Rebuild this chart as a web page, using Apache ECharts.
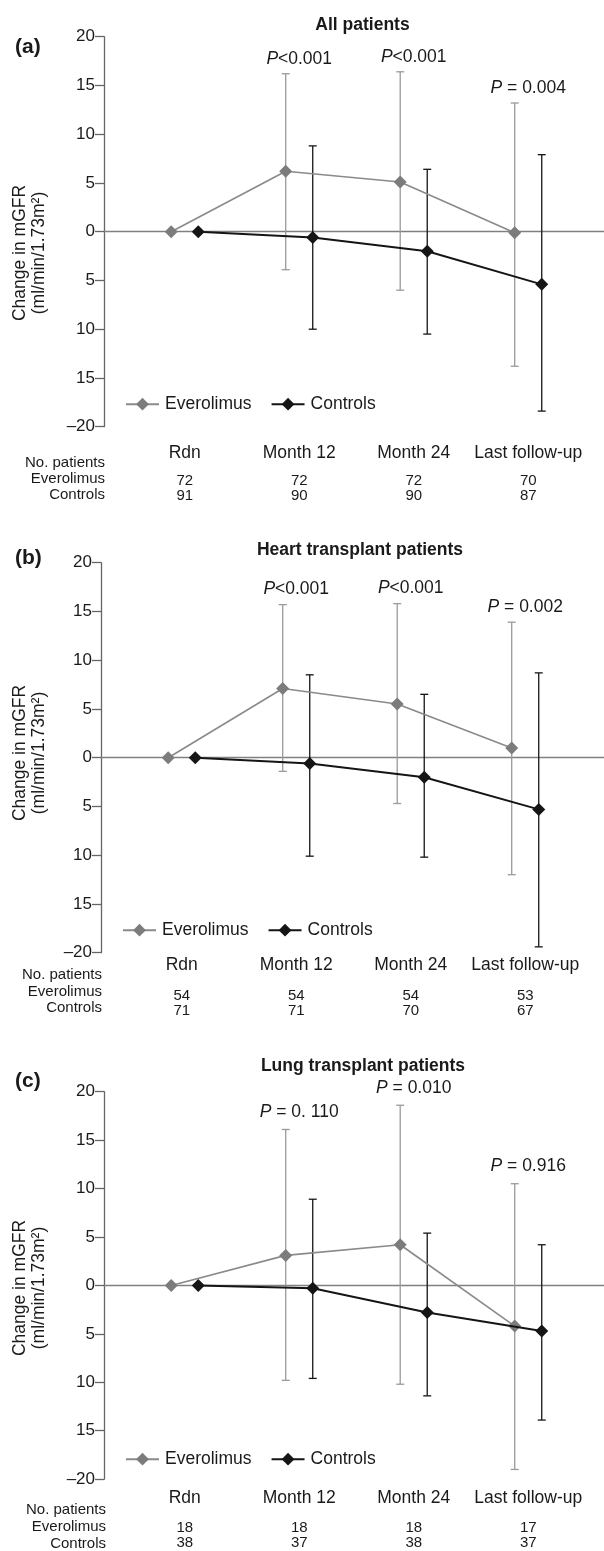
<!DOCTYPE html>
<html><head><meta charset="utf-8">
<script src="https://cdn.jsdelivr.net/npm/echarts@6/dist/echarts.min.js"></script>
<style>html,body{margin:0;padding:0;background:#fff}#c{width:604px;height:1551px}</style>
</head><body><div id="c"></div>
<script>
// ---------- data ----------
const categories = ['Rdn', 'Month 12', 'Month 24', 'Last follow-up'];
const yTickLabels = ['\u201320', '15', '10', '5', '0', '5', '10', '15', '20']; // from -20 to 20 step 5
const panelLetters = ['(a)', '(b)', '(c)'];
const panelTitles = ['All patients', 'Heart transplant patients', 'Lung transplant patients'];
const seriesNames = ['Everolimus', 'Controls'];
const rowLabels = ['No. patients', 'Everolimus', 'Controls'];
const yAxisName = ['Change in mGFR', '(ml/min/1.73m\u00B2)'];

// (a) All patients
const everoMeanA = [0, 6.2, 5.1, -0.1];
const everoLowA  = [0, -3.9, -6.0, -13.8];
const everoHighA = [0, 16.2, 16.4, 13.2];
const ctrlMeanA  = [0, -0.6, -2.0, -5.4];
const ctrlLowA   = [0, -10.0, -10.5, -18.4];
const ctrlHighA  = [0, 8.8, 6.4, 7.9];
const pLabelsA   = ['', 'P<0.001', 'P<0.001', 'P = 0.004'];
const nEveroA    = [72, 72, 72, 70];
const nCtrlA     = [91, 90, 90, 87];

// (b) Heart transplant patients
const everoMeanB = [0, 7.1, 5.5, 1.0];
const everoLowB  = [0, -1.4, -4.7, -12.0];
const everoHighB = [0, 15.7, 15.8, 13.9];
const ctrlMeanB  = [0, -0.6, -2.0, -5.3];
const ctrlLowB   = [0, -10.1, -10.2, -19.4];
const ctrlHighB  = [0, 8.5, 6.5, 8.7];
const pLabelsB   = ['', 'P<0.001', 'P<0.001', 'P = 0.002'];
const nEveroB    = [54, 54, 54, 53];
const nCtrlB     = [71, 71, 70, 67];

// (c) Lung transplant patients
const everoMeanC = [0, 3.1, 4.2, -4.2];
const everoLowC  = [0, -9.8, -10.2, -19.0];
const everoHighC = [0, 16.1, 18.6, 10.5];
const ctrlMeanC  = [0, -0.3, -2.8, -4.7];
const ctrlLowC   = [0, -9.6, -11.4, -13.9];
const ctrlHighC  = [0, 8.9, 5.4, 4.2];
const pLabelsC   = ['', 'P = 0. 110', 'P = 0.010', 'P = 0.916'];
const nEveroC    = [18, 18, 18, 17];
const nCtrlC     = [38, 37, 38, 37];

// ---------- layout / style ----------
const FONT = '"Liberation Sans", Arial, Helvetica, sans-serif';
const TXT = '#1a1a1a';
const EVERO_LINE = '#8a8a8a', EVERO_MARK = '#7c7c7c', EVERO_ERR = '#9a9a9a';
const CTRL = '#151515';
const PX_PER_CAT = 114.5;
const XMIN = -0.705;
const OFF = 0.118;

const panels = [
  { mean: [everoMeanA, ctrlMeanA], low: [everoLowA, ctrlLowA], high: [everoHighA, ctrlHighA], p: pLabelsA, n: [nEveroA, nCtrlA],
    top: 36.7, left: 104, nameCy: 253, titleX: 362.5, titleY: 25, letterY: 47, catDy: 26.3, rowDy: [36, 52.6, 68.3], numDy: [53.8, 69], rowRight: 105, pGap: 15 },
  { mean: [everoMeanB, ctrlMeanB], low: [everoLowB, ctrlLowB], high: [everoHighB, ctrlHighB], p: pLabelsB, n: [nEveroB, nCtrlB],
    top: 562.7, left: 101, nameCy: 753, titleX: 360, titleY: 550, letterY: 558, catDy: 12.3, rowDy: [22.3, 39, 55.6], numDy: [43, 58], rowRight: 102, pGap: 15.5 },
  { mean: [everoMeanC, ctrlMeanC], low: [everoLowC, ctrlLowC], high: [everoHighC, ctrlHighC], p: pLabelsC, n: [nEveroC, nCtrlC],
    top: 1091.7, left: 104, nameCy: 1288, titleX: 363, titleY: 1066, letterY: 1081.7, catDy: 18.8, rowDy: [28.3, 45, 61.8], numDy: [48.3, 64], rowRight: 106, pGap: 17.5 }
];
const PLOT_H = 390;

const grids = [], xAxes = [], yAxes = [], series = [], legends = [], graphics = [];

function errRender(offset, color) {
  return function (params, api) {
    const i = api.value(0), lo = api.value(1), hi = api.value(2);
    if (lo === hi) return null;
    const a = api.coord([i + offset, lo]);
    const b = api.coord([i + offset, hi]);
    const cap = 4;
    const st = { stroke: color, lineWidth: 1.3 };
    return { type: 'group', children: [
      { type: 'line', shape: { x1: a[0], y1: a[1], x2: b[0], y2: b[1] }, style: st },
      { type: 'line', shape: { x1: a[0] - cap, y1: a[1], x2: a[0] + cap, y2: a[1] }, style: st },
      { type: 'line', shape: { x1: b[0] - cap, y1: b[1], x2: b[0] + cap, y2: b[1] }, style: st }
    ]};
  };
}

panels.forEach((P, g) => {
  const width = 604 - P.left;
  const xmax = XMIN + width / PX_PER_CAT;
  grids.push({ left: P.left, top: P.top, width: width, height: PLOT_H, containLabel: false });

  const xBase = { gridIndex: g, type: 'value', min: XMIN, max: xmax, splitLine: { show: false }, axisTick: { show: false } };
  // zero line axis
  const xi0 = xAxes.length;
  xAxes.push(Object.assign({}, xBase, {
    axisLine: { show: true, onZero: true, lineStyle: { color: '#808080', width: 1.3 } },
    axisLabel: { show: false }
  }));
  // category labels axis
  xAxes.push(Object.assign({}, xBase, {
    position: 'bottom',
    axisLine: { show: false, onZero: false },
    axisLabel: { show: true, customValues: [0, 1, 2, 3], margin: P.catDy - 8.75,
      formatter: v => categories[Math.round(v)] || '',
      fontSize: 17.5, lineHeight: 17.5, fontFamily: FONT, color: TXT }
  }));
  // patient count axis
  const lh = P.numDy[1] - P.numDy[0];
  xAxes.push(Object.assign({}, xBase, {
    position: 'bottom',
    axisLine: { show: false, onZero: false },
    axisLabel: { show: true, customValues: [0, 1, 2, 3], margin: P.numDy[0] - lh / 2,
      formatter: v => { const k = Math.round(v); return P.n[0][k] + '\n' + P.n[1][k]; },
      fontSize: 15, lineHeight: lh, fontFamily: FONT, color: TXT }
  }));

  yAxes.push({ gridIndex: g, type: 'value', min: -20, max: 20, interval: 5,
    axisLine: { show: true, onZero: false, lineStyle: { color: '#666', width: 1.3 } },
    axisTick: { show: true, length: 9, lineStyle: { color: '#666', width: 1.3 } },
    axisLabel: { margin: 9, fontSize: 17, fontFamily: FONT, color: TXT,
      formatter: v => yTickLabels[Math.round((v + 20) / 5)] },
    splitLine: { show: false } });

  const offs = [-OFF, OFF];
  const errColors = [EVERO_ERR, CTRL];
  // error bars
  [0, 1].forEach(s => {
    series.push({ type: 'custom', name: seriesNames[s] + ' SD', xAxisIndex: xi0, yAxisIndex: g,
      renderItem: errRender(offs[s], errColors[s]),
      data: categories.map((c, i) => [i, P.low[s][i], P.high[s][i]]),
      encode: { x: 0, y: [1, 2] }, z: 2, silent: true });
  });
  // mean lines
  series.push({ type: 'line', name: seriesNames[0], xAxisIndex: xi0, yAxisIndex: g,
    data: P.mean[0].map((v, i) => [i + offs[0], v]),
    symbol: 'diamond', symbolSize: 13, lineStyle: { color: EVERO_LINE, width: 1.6 },
    itemStyle: { color: EVERO_MARK }, z: 3, silent: true, animation: false });
  series.push({ type: 'line', name: seriesNames[1], xAxisIndex: xi0, yAxisIndex: g,
    data: P.mean[1].map((v, i) => [i + offs[1], v]),
    symbol: 'diamond', symbolSize: 13, lineStyle: { color: CTRL, width: 2 },
    itemStyle: { color: CTRL }, z: 4, silent: true, animation: false });
  // p-value labels above everolimus upper bar
  series.push({ type: 'custom', name: 'p' + g, xAxisIndex: xi0, yAxisIndex: g,
    data: categories.map((c, i) => [i, P.high[0][i]]),
    encode: { x: 0, y: 1 }, z: 5, silent: true, clip: false,
    renderItem: (params, api) => {
      const lab = P.p[params.dataIndex];
      if (!lab) return null;
      const pt = api.coord([api.value(0), api.value(1)]);
      return { type: 'text', x: pt[0], y: pt[1] - P.pGap,
        style: { text: '{i|P}' + lab.slice(1), fontSize: 17.5, fontFamily: FONT, fill: TXT,
          align: 'center', verticalAlign: 'middle',
          rich: { i: { fontStyle: 'italic', fontSize: 17.5, fontFamily: FONT, fill: TXT } } } };
    } });

  legends.push({ left: P.left + 16, top: P.top + 353.5, itemWidth: 33, itemHeight: 16, itemGap: 19,
    selectedMode: false, data: seriesNames,
    textStyle: { fontSize: 17.5, fontFamily: FONT, color: TXT, padding: [0, 0, 0, 1] } });

  // texts
  graphics.push({ type: 'text', x: P.titleX, y: P.titleY,
    style: { text: panelTitles[g], font: 'bold 17.5px ' + FONT, fill: TXT, align: 'center', verticalAlign: 'middle' } });
  graphics.push({ type: 'text', x: 15, y: P.letterY,
    style: { text: panelLetters[g], font: 'bold 21px ' + FONT, fill: TXT, align: 'left', verticalAlign: 'middle' } });
  graphics.push({ type: 'text', x: 20, y: P.nameCy, rotation: Math.PI / 2,
    style: { text: yAxisName[0], font: '17.5px ' + FONT, fill: TXT, align: 'center', verticalAlign: 'middle' } });
  graphics.push({ type: 'text', x: 39, y: P.nameCy, rotation: Math.PI / 2,
    style: { text: yAxisName[1], font: '17.5px ' + FONT, fill: TXT, align: 'center', verticalAlign: 'middle' } });
  rowLabels.forEach((t, r) => {
    graphics.push({ type: 'text', x: P.rowRight, y: P.top + PLOT_H + P.rowDy[r],
      style: { text: t, font: '15px ' + FONT, fill: TXT, align: 'right', verticalAlign: 'middle' } });
  });
});

const chart = echarts.init(document.getElementById('c'), null, { renderer: 'canvas' });
chart.setOption({
  animation: false,
  backgroundColor: '#fff',
  grid: grids, xAxis: xAxes, yAxis: yAxes, series: series, legend: legends, graphic: graphics
});
</script></body></html>
